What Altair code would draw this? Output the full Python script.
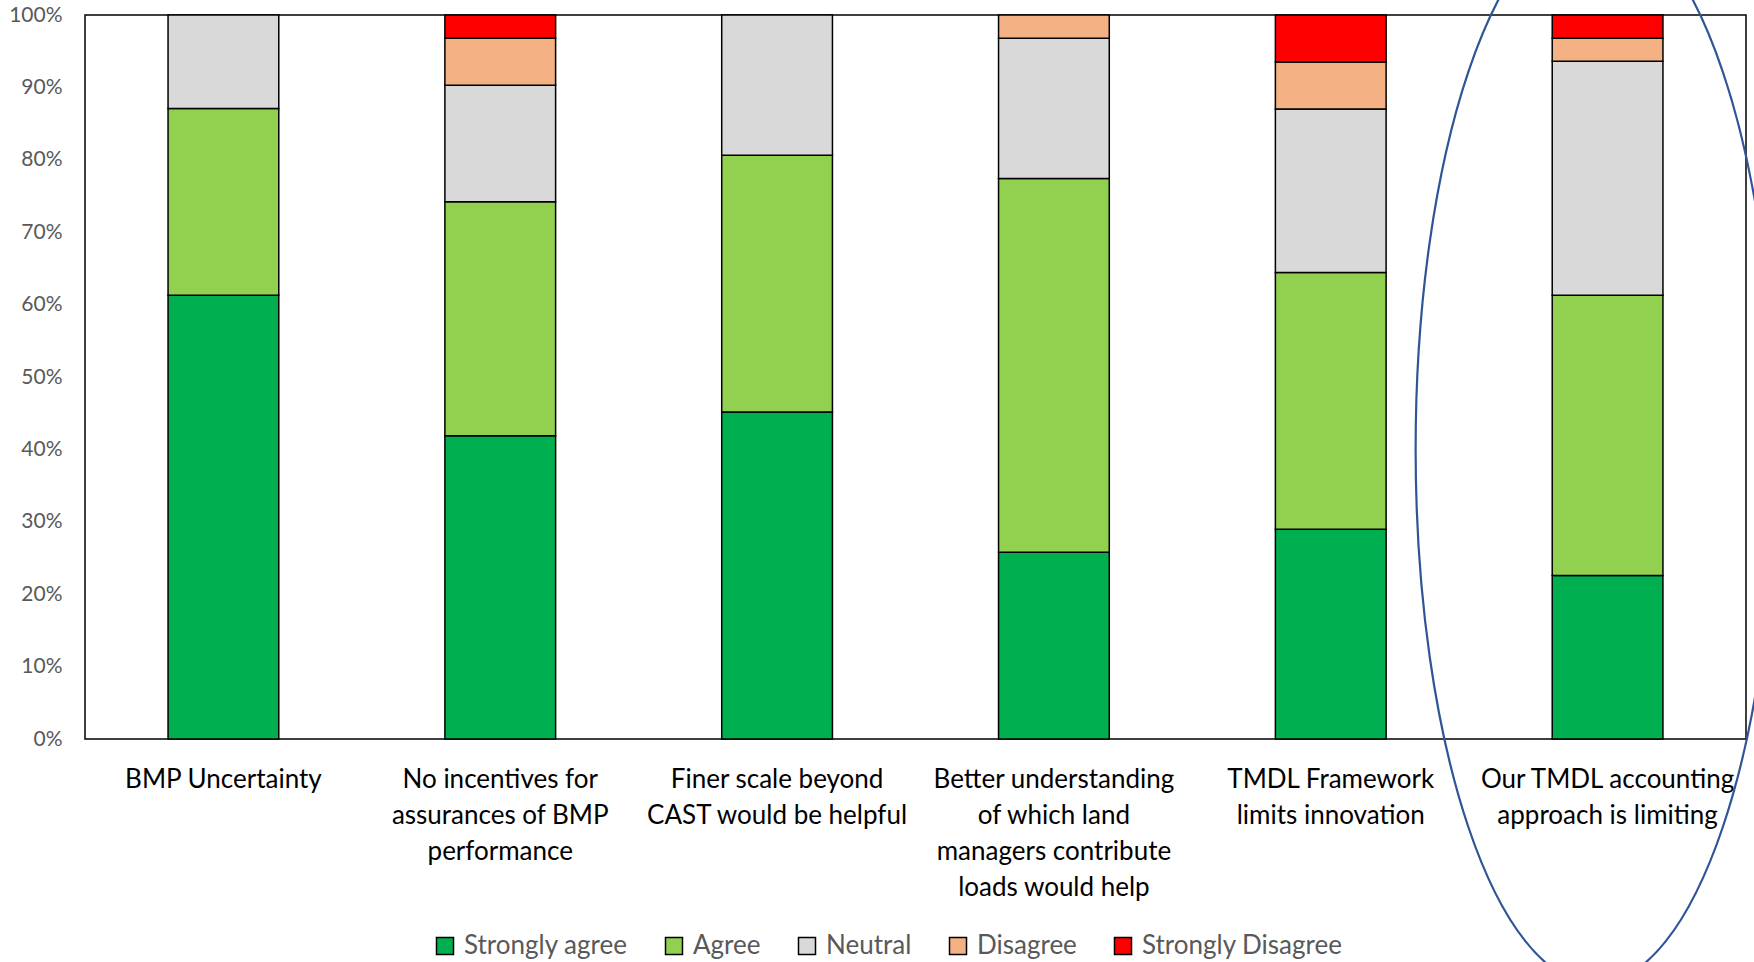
import altair as alt
import pandas as pd

# Survey statements (line breaks mark the wrapped axis labels)
questions = [
    "BMP Uncertainty",
    "No incentives for\nassurances of BMP\nperformance",
    "Finer scale beyond\nCAST would be helpful",
    "Better understanding\nof which land\nmanagers contribute\nloads would help",
    "TMDL Framework\nlimits innovation",
    "Our TMDL accounting\napproach is limiting",
]

levels = ["Strongly agree", "Agree", "Neutral", "Disagree", "Strongly Disagree"]
level_colors = ["#00B050", "#92D050", "#D9D9D9", "#F4B183", "#FF0000"]

# Share of respondents (%) per statement
strongly_agree = [61.3, 41.9, 45.2, 25.8, 29.0, 22.6]
agree = [25.8, 32.3, 35.5, 51.6, 35.5, 38.7]
neutral = [12.9, 16.1, 19.4, 19.4, 22.6, 32.3]
disagree = [0.0, 6.5, 0.0, 3.2, 6.5, 3.2]
strongly_disagree = [0.0, 3.2, 0.0, 0.0, 6.5, 3.2]

# Highlight ring around the last statement
highlight_question = questions[-1]
highlight_share = 0.40

series = [strongly_agree, agree, neutral, disagree, strongly_disagree]
rows = []
for rank, (level, values) in enumerate(zip(levels, series)):
    for q, v in zip(questions, values):
        rows.append({"question": q, "level": level, "rank": rank, "pct": v})
df = pd.DataFrame(rows)

x_enc = alt.X(
    "question:N",
    sort=questions,
    scale=alt.Scale(paddingInner=0.6, paddingOuter=0.3),
    axis=alt.Axis(
        title=None,
        labelAngle=0,
        labelExpr="split(datum.label, '\\n')",
        labelFont="Lato",
        labelFontSize=26,
        labelColor="#000000",
        labelLineHeight=36,
        labelPadding=27,
        labelBaseline="top",
        labelLimit=0,
        labelOverlap=False,
        ticks=False,
        domain=False,
    ),
)

y_scale = alt.Scale(domain=[0, 1], nice=False)
y_axis = alt.Axis(
    title=None,
    values=[i / 10 for i in range(11)],
    format=".0%",
    labelFont="Lato",
    labelFontSize=21,
    labelColor="#595959",
    labelPadding=23,
    ticks=False,
    domain=False,
    grid=False,
)

bars = (
    alt.Chart(df)
    .transform_filter("datum.pct > 0")
    .mark_bar(stroke="black", strokeWidth=1.5)
    .encode(
        x=x_enc,
        y=alt.Y("pct:Q", stack="normalize", scale=y_scale, axis=y_axis),
        color=alt.Color(
            "level:N",
            scale=alt.Scale(domain=levels, range=level_colors),
            legend=alt.Legend(
                title=None,
                orient="none",
                legendX=347,
                legendY=918,
                direction="horizontal",
                symbolType="square",
                symbolSize=289,
                symbolStrokeColor="black",
                symbolStrokeWidth=1.5,
                symbolOpacity=1,
                labelFont="Lato",
                labelFontSize=26,
                labelColor="#595959",
                labelOffset=6,
                labelLimit=0,
                columnPadding=33,
            ),
        ),
        order=alt.Order("rank:Q", sort="ascending"),
    )
)

ring_df = pd.DataFrame({"question": [highlight_question], "share": [highlight_share]})
ring = (
    alt.Chart(ring_df)
    .mark_point(
        shape="M -0.337 0 A 0.337 1 0 1 0 0.337 0 A 0.337 1 0 1 0 -0.337 0 Z",
        size=1140624,
        filled=False,
        stroke="#2F5597",
        strokeWidth=2.2,
        opacity=1,
        xOffset=-12,
    )
    .encode(
        x=alt.X("question:N", sort=questions),
        y=alt.Y("share:Q", scale=y_scale),
    )
)

chart = (
    alt.layer(bars, ring)
    .properties(
        width=1661,
        height=724,
        autosize=alt.AutoSizeParams(type="none"),
        padding={"left": 85, "top": 15, "right": 8, "bottom": 223},
        view=alt.ViewBackground(stroke="#000000", strokeWidth=1.5),
    )
    .configure_view(stroke="#000000", strokeWidth=1.5)
    .configure(background="white")
)

chart.save("out.html", embed_options={"renderer": "svg", "actions": False})
